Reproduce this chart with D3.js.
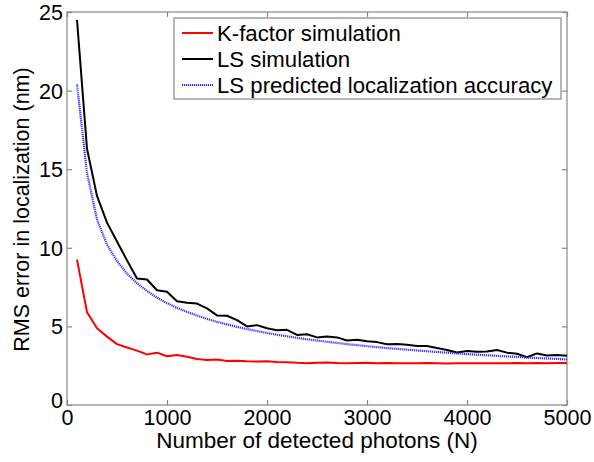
<!DOCTYPE html>
<html><head><meta charset="utf-8">
<script src="https://cdn.jsdelivr.net/npm/d3@7"></script>
<style>body{margin:0;background:#fff}svg{display:block}text{font-family:"Liberation Sans",Arial,sans-serif;fill:#000}</style>
</head><body><div id="chart"></div>
<script>
const photons = [100,200,300,400,500,600,700,800,900,1000,1100,1200,1300,1400,1500,1600,1700,1800,1900,2000,2100,2200,2300,2400,2500,2600,2700,2800,2900,3000,3100,3200,3300,3400,3500,3600,3700,3800,3900,4000,4100,4200,4300,4400,4500,4600,4700,4800,4900,5000];
const kFactor = [9.25,5.9,4.88,4.35,3.87,3.66,3.46,3.22,3.33,3.1,3.18,3.07,2.92,2.87,2.9,2.8,2.82,2.78,2.76,2.78,2.74,2.72,2.68,2.66,2.68,2.7,2.67,2.66,2.67,2.68,2.65,2.67,2.66,2.65,2.66,2.67,2.65,2.64,2.65,2.66,2.65,2.66,2.65,2.66,2.67,2.66,2.67,2.66,2.67,2.67];
const lsSim = [24.5,16.3,13.3,11.6,10.4,9.2,8.05,7.98,7.3,7.2,6.6,6.5,6.45,6.15,5.7,5.68,5.4,5.0,5.08,4.88,4.76,4.78,4.46,4.5,4.3,4.36,4.3,4.1,4.15,4.06,4.0,3.87,3.88,3.83,3.76,3.75,3.62,3.5,3.34,3.43,3.38,3.4,3.5,3.33,3.26,3.04,3.28,3.15,3.18,3.14];
const lsPred = [20.4,14.75,11.8,10.2,9.15,8.35,7.75,7.25,6.83,6.48,6.18,5.92,5.69,5.48,5.29,5.13,4.97,4.83,4.7,4.58,4.47,4.37,4.27,4.18,4.1,4.02,3.95,3.87,3.81,3.74,3.68,3.62,3.57,3.52,3.47,3.42,3.37,3.33,3.28,3.24,3.2,3.16,3.13,3.09,3.06,3.02,2.99,2.96,2.93,2.9];
const xTicks = [0,1000,2000,3000,4000,5000];
const yTicks = [0,5,10,15,20,25];
const seriesNames = ["K-factor simulation","LS simulation","LS predicted localization accuracy"];
const seriesColors = ["#ff0000","#000000","#3333ff"];
const xTitle = "Number of detected photons (N)";
const yTitle = "RMS error in localization (nm)";

const W = 594, H = 462;
const L = 67, R = 567, T = 12, B = 405;
const svg = d3.select("#chart").append("svg").attr("width", W).attr("height", H);
const x = d3.scaleLinear().domain([0,5000]).range([L,R]);
const y = d3.scaleLinear().domain([0,25]).range([B,T]);
const axisColor = "#888";
const fs = 21.5;
const font = '"Liberation Sans",Arial,sans-serif';

svg.append("rect").attr("x",L).attr("y",T).attr("width",R-L).attr("height",B-T)
  .attr("fill","none").attr("stroke",axisColor).attr("stroke-width",1.2);

const gb = svg.append("g").attr("transform",`translate(0,${B})`)
  .call(d3.axisBottom(x).tickValues(xTicks).tickSize(-5).tickFormat(d3.format("d")));
const gt = svg.append("g").attr("transform",`translate(0,${T})`)
  .call(d3.axisTop(x).tickValues(xTicks).tickSize(-5).tickFormat(""));
const gl = svg.append("g").attr("transform",`translate(${L},0)`)
  .call(d3.axisLeft(y).tickValues(yTicks).tickSize(-5).tickPadding(4).tickFormat(d3.format("d")));
const gr = svg.append("g").attr("transform",`translate(${R},0)`)
  .call(d3.axisRight(y).tickValues(yTicks).tickSize(-5).tickFormat(""));
[gb,gt,gl,gr].forEach(g=>{
  g.select(".domain").remove();
  g.selectAll(".tick line").attr("stroke",axisColor).attr("stroke-width",1.2);
  g.selectAll("text").attr("font-size",fs).attr("fill","#000").style("font-family",font);
});
gb.selectAll(".tick text").attr("y",4).attr("dy","0.75em");
gl.selectAll(".tick text").attr("dy","0.35em");
gl.selectAll(".tick").filter(d=>d===0).select("text").attr("dy","0.1em");

svg.append("text").attr("x",(L+R)/2).attr("y",448).attr("text-anchor","middle")
  .attr("font-size",22.5).text(xTitle);
svg.append("text").attr("transform",`translate(29,${(T+B)/2+1}) rotate(-90)`)
  .attr("text-anchor","middle").attr("font-size",21.5).text(yTitle);

const data = [kFactor, lsSim, lsPred];
const line = d3.line().x((d,i)=>x(photons[i])).y(d=>y(d));
data.forEach((vals,k)=>{
  svg.append("path").datum(vals).attr("d",line).attr("fill","none")
    .attr("stroke",seriesColors[k]).attr("stroke-width",k===2?2.2:2)
    .attr("stroke-linejoin","round")
    .attr("stroke-dasharray",k===2?"1.2,0.8":null);
});

const lg = svg.append("g");
lg.append("rect").attr("x",174).attr("y",18).attr("width",387).attr("height",81)
  .attr("fill","#fff").attr("stroke",axisColor).attr("stroke-width",1.2);
seriesNames.forEach((name,k)=>{
  const cy = 33 + k*26;
  lg.append("line").attr("x1",182).attr("x2",213).attr("y1",cy).attr("y2",cy)
    .attr("stroke",seriesColors[k]).attr("stroke-width",2)
    .attr("stroke-dasharray",k===2?"1.2,0.8":null);
  lg.append("text").attr("x",217).attr("y",cy).attr("dy","0.35em").attr("font-size",22.2).text(name);
});
</script></body></html>
